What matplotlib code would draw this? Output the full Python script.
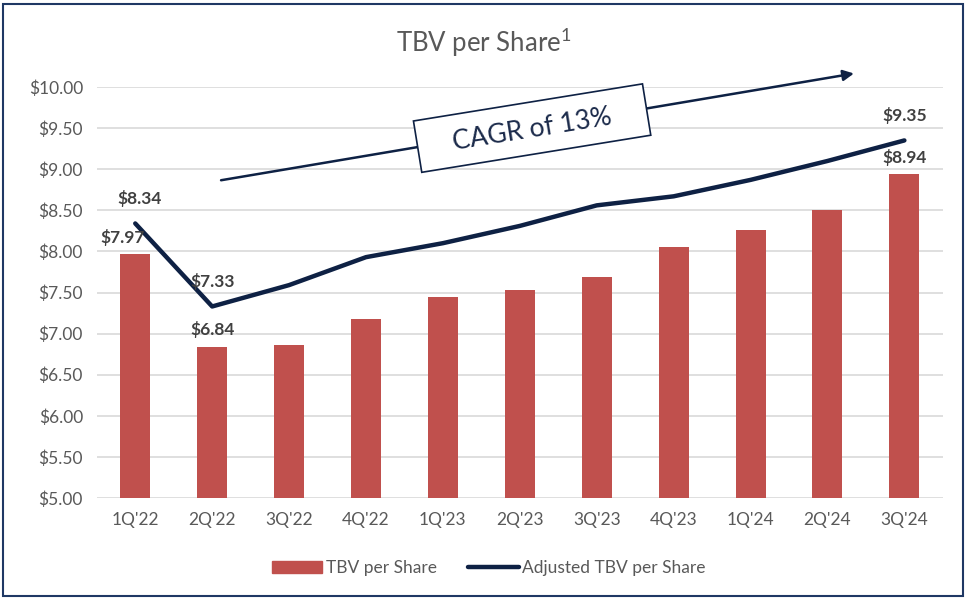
import matplotlib
matplotlib.use("Agg")
import matplotlib.pyplot as plt
from matplotlib.patches import Rectangle, Patch
from matplotlib.lines import Line2D
from matplotlib.transforms import Affine2D, ScaledTranslation

plt.rcParams['font.family'] = ['Lato', 'DejaVu Sans']

quarters = ["1Q'22", "2Q'22", "3Q'22", "4Q'22", "1Q'23", "2Q'23",
            "3Q'23", "4Q'23", "1Q'24", "2Q'24", "3Q'24"]
tbv = [7.97, 6.84, 6.86, 7.18, 7.45, 7.53, 7.69, 8.05, 8.26, 8.50, 8.94]
adj_tbv = [8.34, 7.33, 7.59, 7.93, 8.10, 8.31, 8.56, 8.67, 8.87, 9.10, 9.35]
labeled = [0, 1, 10]
cagr_text = "CAGR of 13%"

bar_color = "#C0504D"
line_color = "#0E2144"
grey = "#595959"

fig = plt.figure(figsize=(9.68, 6.0), dpi=100)
ax = fig.add_axes([0.100, 0.170, 0.874, 0.685])

x = list(range(len(quarters)))
ax.bar(x, tbv, width=0.39, color=bar_color, zorder=2)
ax.plot(x, adj_tbv, color=line_color, lw=3.2, solid_capstyle="round", zorder=3)

for i in labeled:
    ax.annotate(f"${tbv[i]:.2f}", (i, tbv[i]), xytext=(-9 if i == 0 else 0, 6),
                textcoords="offset points", ha="center", va="bottom",
                fontsize=12.5, fontweight="bold", color="#404040")
    ax.annotate(f"${adj_tbv[i]:.2f}", (i, adj_tbv[i]), xytext=(3 if i == 0 else 0, 12),
                textcoords="offset points", ha="center", va="bottom",
                fontsize=12.5, fontweight="bold", color="#404040")

ax.set_xlim(-0.5, len(quarters) - 0.5)
ax.set_ylim(5.0, 10.0)
ax.set_yticks([5 + 0.5 * k for k in range(11)])
ax.set_yticklabels([f"${5 + 0.5 * k:.2f}" for k in range(11)])
ax.set_xticks(x)
ax.set_xticklabels(quarters)
ax.tick_params(axis="both", length=0, labelsize=12.5, colors=grey)
ax.tick_params(axis="y", pad=10)
ax.tick_params(axis="x", pad=10)
ax.grid(axis="y", color="#D9D9D9", lw=1.2, zorder=0)
ax.set_axisbelow(True)
for s in ax.spines.values():
    s.set_visible(False)

# CAGR arrow and box
ax.annotate("", xy=(9.38, 10.17), xytext=(1.08, 8.86),
            arrowprops=dict(arrowstyle="-|>", color=line_color, lw=1.8,
                            mutation_scale=16),
            annotation_clip=False, zorder=4)
box_x, box_y, box_angle = 5.16, 9.50, 9.2
box_trans = (Affine2D().rotate_deg(box_angle) + fig.dpi_scale_trans
             + ScaledTranslation(box_x, box_y, ax.transData))
ax.add_patch(Rectangle((-1.16, -0.26), 2.32, 0.52, transform=box_trans,
                       fc="white", ec=line_color, lw=1.2, zorder=5, clip_on=False))
ax.text(box_x, box_y - 0.02, cagr_text, rotation=box_angle, rotation_mode="anchor",
        ha="center", va="center", fontsize=19, color="#1B2A4A", zorder=6)

fig.text(0.5, 0.93, "TBV per Share$^{\\mathregular{1}}$", ha="center", va="center",
         fontsize=18.5, color=grey)

handles = [Patch(color=bar_color, label="TBV per Share"),
           Line2D([0], [0], color=line_color, lw=3.2, solid_capstyle="round",
                  label="Adjusted TBV per Share")]
leg = fig.legend(handles=handles, loc="center", bbox_to_anchor=(0.505, 0.053),
                 ncol=2, frameon=False, fontsize=12.5, handlelength=2.9,
                 handletextpad=0.2, columnspacing=1.8)
for t in leg.get_texts():
    t.set_color(grey)

fig.patches.append(Rectangle((0.003, 0.006), 0.992, 0.988, transform=fig.transFigure,
                             fill=False, ec="#1F3864", lw=1.5))

fig.savefig("out.png", dpi=100)
